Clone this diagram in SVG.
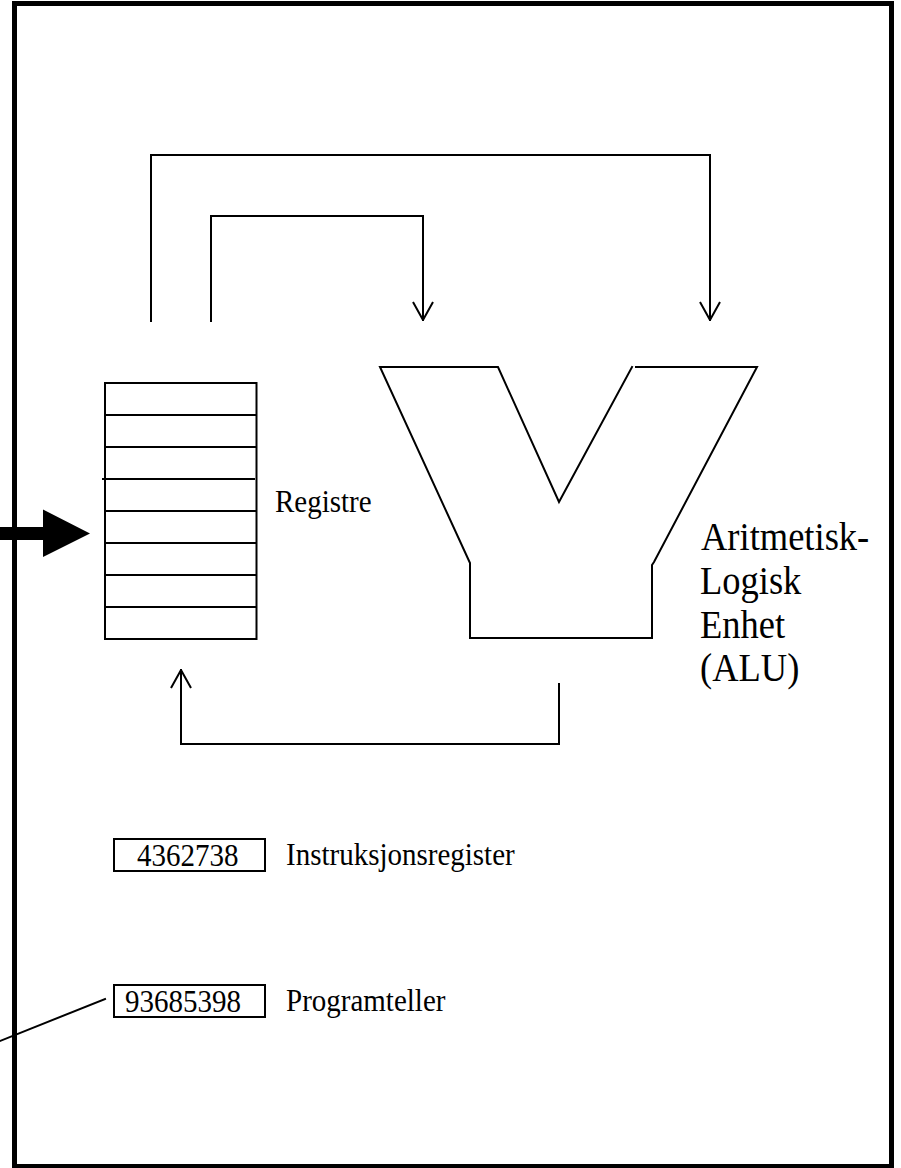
<svg xmlns="http://www.w3.org/2000/svg" width="901" height="1168" viewBox="0 0 901 1168">
  <style>
    .ln { fill: none; stroke: #000; stroke-width: 2; stroke-linecap: square; }
    .box { fill: #fff; stroke: #000; stroke-width: 2; }
    .lbl { font-family: "Liberation Serif", "Times New Roman", serif; font-size: 29px; fill: #000; }
    .big { font-family: "Liberation Serif", "Times New Roman", serif; font-size: 36.5px; fill: #000; }
  </style>
  <defs>
    <!-- open V arrowhead, drawn along +x so orient="auto" follows the line -->
    <marker id="open" viewBox="0 0 20 22" refX="19" refY="11" markerWidth="20" markerHeight="22" markerUnits="userSpaceOnUse" orient="auto">
      <path d="M1 1 L19 11 L1 21" fill="none" stroke="#000" stroke-width="2"/>
    </marker>
  </defs>

  <!-- page frame -->
  <rect x="14.5" y="3.5" width="877" height="1163" fill="#fff" stroke="#000" stroke-width="5"/>

  <!-- register file -->
  <g id="registre">
    <rect class="box" x="105" y="383" width="151.5" height="256"/>
    <path class="ln" d="M105 415 H256 M105 447 H256 M103 479 H254 M105 511 H256 M105 543 H256 M105 575 H256 M105 607 H256"/>
    <text class="lbl" transform="translate(275 511.5) scale(1 1.09)">Registre</text>
  </g>

  <!-- arithmetic logic unit -->
  <g id="alu">
    <path class="ln" d="M632 367 L559 502 L498 367 H380 L470 563 V638 H652 V565 L654 562 L757 367 H636" stroke-linecap="butt"/>
    <text class="big" transform="translate(701 549.5) scale(1 1.1)">Aritmetisk-</text>
    <text class="big" transform="translate(700 593.5) scale(1 1.1)">Logisk</text>
    <text class="big" transform="translate(700 637.5) scale(1 1.1)">Enhet</text>
    <text class="big" transform="translate(700 680.5) scale(1 1.1)">(ALU)</text>
  </g>

  <!-- instruction register -->
  <g id="instruksjonsregister">
    <rect class="box" x="114" y="839" width="151" height="32"/>
    <text class="lbl" transform="translate(137 866) scale(1 1.09)">4362738</text>
    <text class="lbl" transform="translate(286 864.5) scale(1 1.09)">Instruksjonsregister</text>
  </g>

  <!-- program counter -->
  <g id="programteller">
    <rect class="box" x="114" y="985" width="151" height="32"/>
    <text class="lbl" transform="translate(125 1011.5) scale(1 1.09)">93685398</text>
    <text class="lbl" transform="translate(286 1011) scale(1 1.09)">Programteller</text>
  </g>

  <!-- data paths -->
  <g id="connectors">
    <path class="ln" d="M151 321 V155 H710 V320" marker-end="url(#open)"/>
    <path class="ln" d="M211 321 V216 H423 V320" marker-end="url(#open)"/>
    <path class="ln" d="M559 684 V744 H181 V670" marker-end="url(#open)"/>
    <path class="ln" d="M105 999 L0 1041" stroke-linecap="butt"/>
    <polygon points="0,527 43,527 43,509.5 90,533.5 43,557 43,540 0,540" fill="#000"/>
  </g>
</svg>
